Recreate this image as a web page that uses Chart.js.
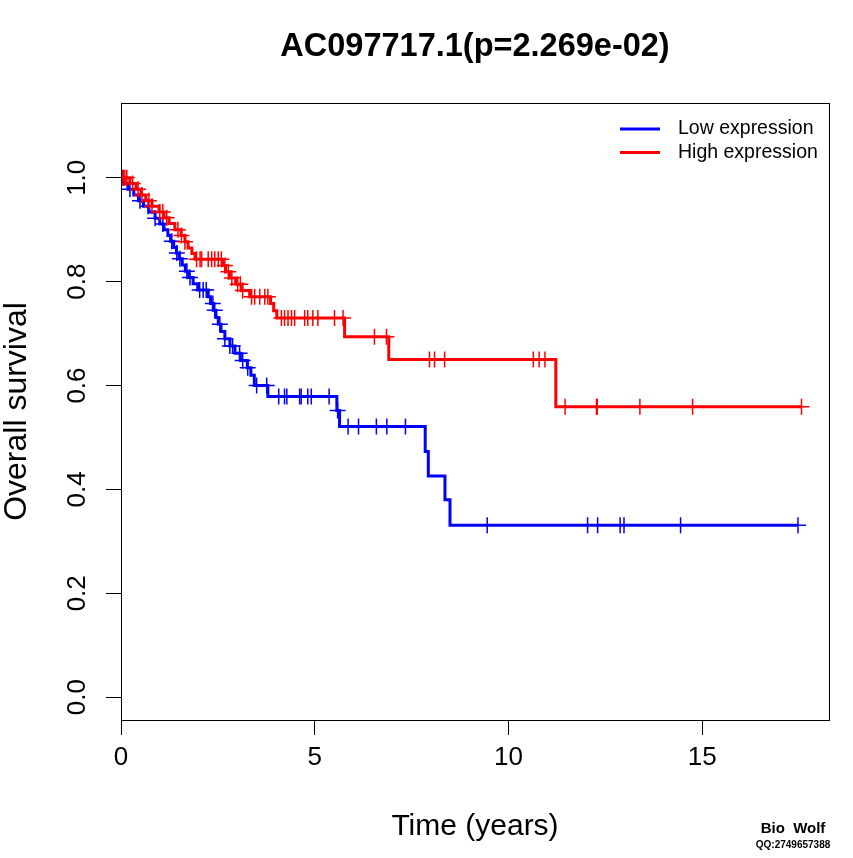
<!DOCTYPE html>
<html>
<head>
<meta charset="utf-8">
<script src="https://cdn.jsdelivr.net/npm/chart.js@4/dist/chart.umd.min.js"></script>
<style>
  html, body { margin: 0; padding: 0; background: #ffffff; }
  #wrap { width: 853px; height: 858px; }
</style>
</head>
<body>
<div id="wrap"><canvas id="c" width="853" height="858"></canvas></div>
<script>
// ---- data ----
const titleText = "AC097717.1(p=2.269e-02)";
const seriesNames = ["Low expression", "High expression"];
const xTicks = [0, 5, 10, 15];
const yTicks = [0, 0.2, 0.4, 0.6, 0.8, 1.0];

// Low expression: event times (years) and survival after each event
const lowTimes = [0.08,0.18,0.33,0.45,0.58,0.72,0.88,1.00,1.11,1.21,1.28,1.36,1.43,1.50,1.58,1.66,1.75,1.86,1.98,2.25,2.31,2.38,2.45,2.51,2.58,2.68,2.81,2.94,3.08,3.26,3.35,3.44,3.79,5.57,5.64,7.85,7.93,8.36,8.49];
const lowSurv  = [0.989,0.978,0.967,0.956,0.945,0.934,0.922,0.911,0.900,0.889,0.878,0.866,0.855,0.844,0.832,0.820,0.808,0.796,0.784,0.771,0.758,0.745,0.731,0.718,0.704,0.690,0.676,0.662,0.648,0.634,0.620,0.600,0.579,0.552,0.521,0.473,0.426,0.380,0.331];
const lowCensor = [0.05,0.23,0.49,0.70,0.88,1.08,1.31,1.44,1.52,1.70,1.78,2.03,2.12,2.20,2.37,2.42,2.55,2.68,2.81,2.88,3.06,3.14,3.27,3.50,3.76,4.07,4.22,4.28,4.61,4.65,4.82,4.91,5.37,5.59,5.86,6.13,6.59,6.86,7.34,9.45,12.04,12.30,12.88,12.98,14.44,17.47];

// High expression
const highTimes = [0.23,0.39,0.52,0.64,0.80,0.98,1.11,1.24,1.39,1.55,1.65,1.73,1.83,1.91,2.63,2.70,2.81,2.96,3.12,3.32,3.86,3.94,4.02,5.77,6.91,11.22];
const highSurv  = [0.989,0.978,0.967,0.956,0.945,0.934,0.923,0.912,0.900,0.889,0.877,0.865,0.854,0.843,0.831,0.819,0.807,0.795,0.783,0.771,0.758,0.744,0.730,0.694,0.650,0.559];
const highCensor = [0.02,0.06,0.10,0.15,0.30,0.44,0.54,0.72,0.80,1.00,1.08,1.18,1.47,1.56,1.65,1.95,2.04,2.08,2.25,2.34,2.42,2.51,2.59,2.68,2.77,2.86,3.01,3.08,3.14,3.37,3.45,3.58,3.71,3.79,4.14,4.22,4.31,4.40,4.48,4.74,4.82,4.95,5.08,5.51,5.73,6.54,6.85,7.96,8.09,8.35,10.64,10.79,10.94,11.46,12.27,12.29,13.39,14.75,17.56];

// ---- helpers building library data from the arrays ----
function survAt(times, surv, t) {
  let s = 1;
  for (let i = 0; i < times.length; i++) { if (times[i] <= t) s = surv[i]; }
  return s;
}
function curve(times, surv, censor) {
  const pts = [{x: 0, y: 1}];
  for (let i = 0; i < times.length; i++) pts.push({x: times[i], y: surv[i]});
  const last = censor[censor.length - 1];
  pts.push({x: last, y: survAt(times, surv, last)});
  return pts;
}
function marks(times, surv, censor) {
  return censor.map(t => ({x: t, y: survAt(times, surv, t)}));
}

const FONT = "'Liberation Sans', Arial, Helvetica, sans-serif";
const BLUE = "#0000FF", RED = "#FF0000";

const boxPlugin = {
  id: 'boxAndText',
  afterDraw(chart) {
    const {ctx, chartArea: a} = chart;
    ctx.save();
    ctx.strokeStyle = '#000';
    ctx.lineWidth = 1;
    ctx.strokeRect(Math.round(a.left) + 0.5, Math.round(a.top) + 0.5,
                   Math.round(a.right - a.left), Math.round(a.bottom - a.top));
    // legend
    const items = [[seriesNames[0], BLUE, 129], [seriesNames[1], RED, 152.5]];
    ctx.font = "19.5px " + FONT;
    ctx.textBaseline = 'middle';
    ctx.textAlign = 'left';
    items.forEach(([label, col, y]) => {
      ctx.strokeStyle = col; ctx.lineWidth = 3;
      ctx.beginPath(); ctx.moveTo(620, y); ctx.lineTo(660, y); ctx.stroke();
      ctx.fillStyle = '#000';
      ctx.fillText(label, 678, y);
    });
    // watermark
    ctx.textAlign = 'center';
    ctx.fillStyle = '#000';
    ctx.font = "bold 15px " + FONT;
    ctx.fillText("Bio  Wolf", 793, 829);
    ctx.font = "bold 10px " + FONT;
    ctx.fillText("QQ:2749657388", 793, 845);
    ctx.restore();
  }
};

new Chart(document.getElementById('c'), {
  type: 'line',
  data: {
    datasets: [
      { label: seriesNames[1] + ' censored', type: 'scatter', data: marks(highTimes, highSurv, highCensor),
        pointStyle: 'cross', pointRadius: 8, borderColor: RED, borderWidth: 1.5, showLine: false },
      { label: seriesNames[1], data: curve(highTimes, highSurv, highCensor), stepped: true,
        borderColor: RED, borderWidth: 3, pointRadius: 0, fill: false },
      { label: seriesNames[0] + ' censored', type: 'scatter', data: marks(lowTimes, lowSurv, lowCensor),
        pointStyle: 'cross', pointRadius: 8, borderColor: BLUE, borderWidth: 1.5, showLine: false },
      { label: seriesNames[0], data: curve(lowTimes, lowSurv, lowCensor), stepped: true,
        borderColor: BLUE, borderWidth: 3, pointRadius: 0, fill: false }
    ]
  },
  options: {
    responsive: false,
    animation: false,
    devicePixelRatio: 1,
    layout: { padding: { top: 0, right: 24, bottom: 0, left: 0 } },
    plugins: {
      legend: { display: false },
      tooltip: { enabled: false },
      title: {
        display: true, fullSize: false, text: titleText, color: '#000',
        font: { family: FONT, size: 32.5, weight: 'bold' },
        padding: { top: 28, bottom: 36 }
      }
    },
    scales: {
      x: {
        type: 'linear', min: 0, max: 18.27,
        afterBuildTicks(s) { s.ticks = xTicks.map(v => ({value: v})); },
        afterFit(s) { s.height = 138; },
        grid: { drawOnChartArea: false, drawTicks: true, tickLength: 15, color: '#000', tickWidth: 1 },
        border: { display: true, color: '#000', width: 1 },
        ticks: { color: '#000', font: { family: FONT, size: 26 }, padding: 7, maxRotation: 0, minRotation: 0,
                 callback: v => String(v) },
        title: { display: true, text: 'Time (years)', color: '#000',
                 font: { family: FONT, size: 30, lineHeight: 1 }, padding: { top: 0, bottom: 16 } }
      },
      y: {
        type: 'linear', min: -0.044, max: 1.144,
        afterBuildTicks(s) { s.ticks = yTicks.map(v => ({value: v})); },
        afterFit(s) { s.width = 121; },
        grid: { drawOnChartArea: false, drawTicks: true, tickLength: 15, color: '#000', tickWidth: 1 },
        border: { display: true, color: '#000', width: 1 },
        ticks: { color: '#000', font: { family: FONT, size: 26 }, padding: 10, minRotation: 90, maxRotation: 90,
                 crossAlign: 'center', callback: v => Number(v).toFixed(1) },
        title: { display: true, text: 'Overall survival', color: '#000',
                 font: { family: FONT, size: 32, lineHeight: 1 }, padding: { top: 1, bottom: 0 } }
      }
    }
  },
  plugins: [boxPlugin]
});
</script>
</body>
</html>
